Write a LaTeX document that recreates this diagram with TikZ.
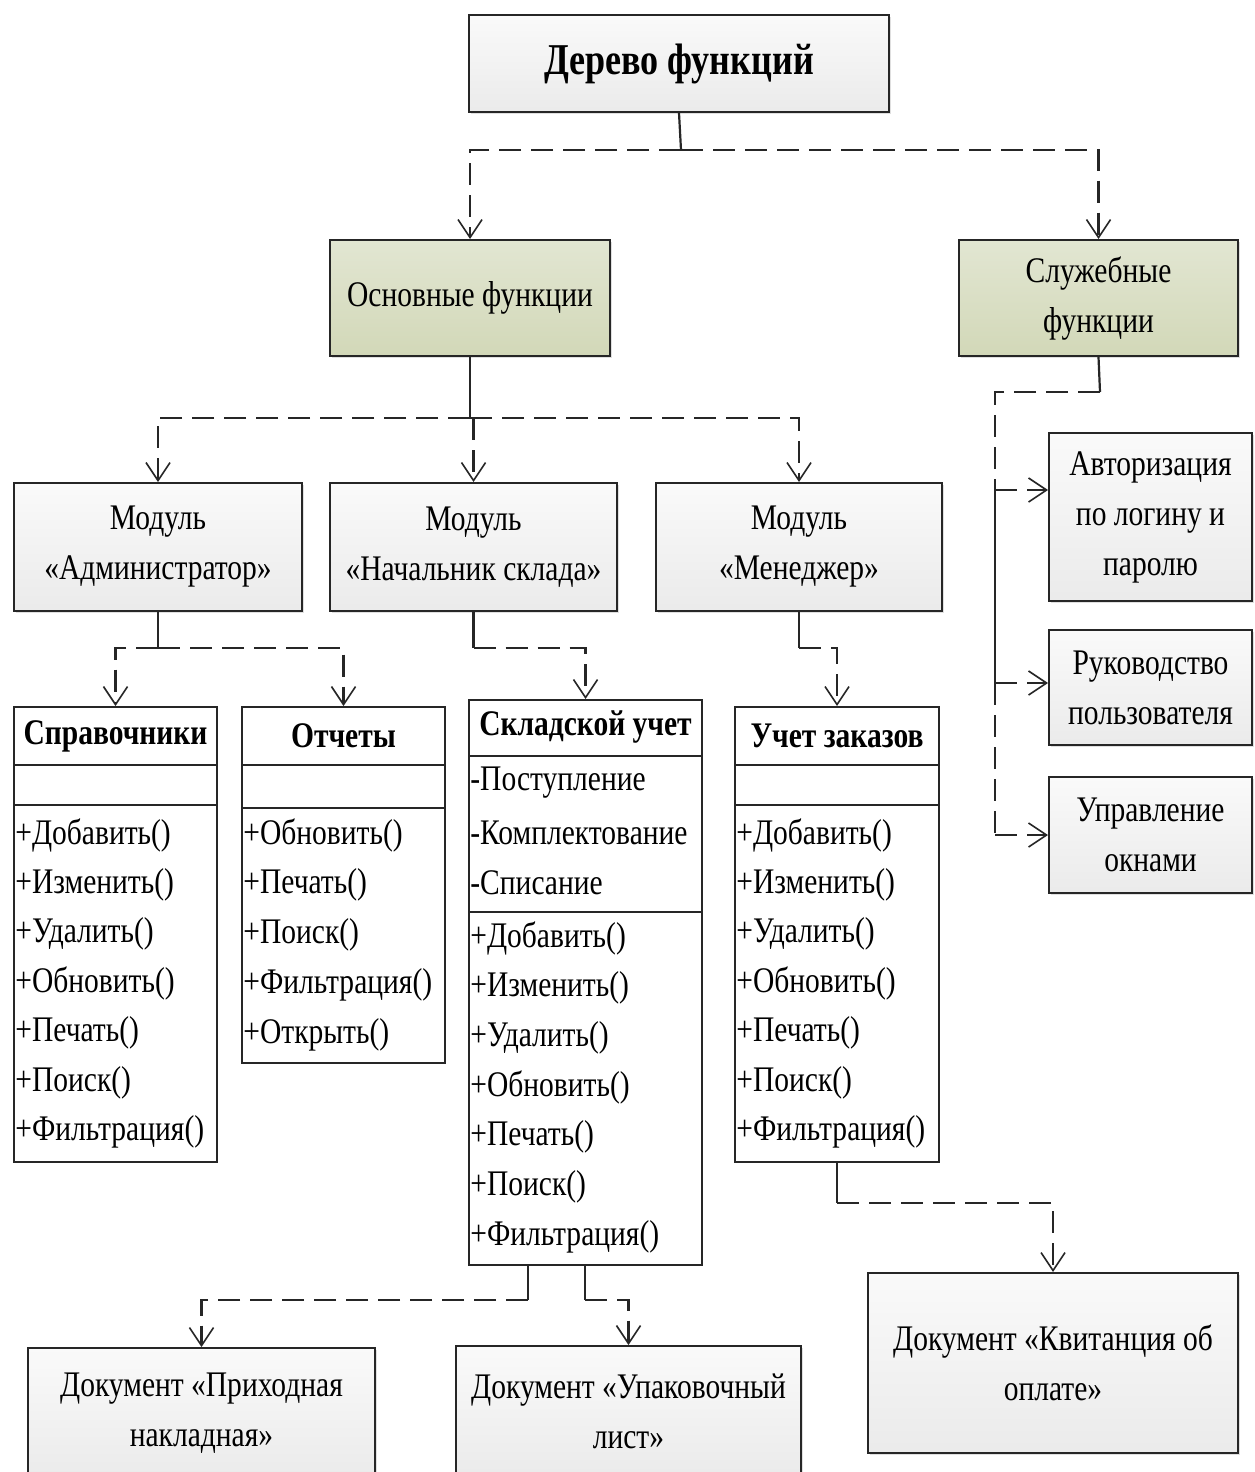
\documentclass[tikz,border=0pt]{standalone}
\usepackage{fontspec}
\setmainfont{Liberation Serif}[FakeStretch=0.82]
\usetikzlibrary{arrows.meta,shadows}
\definecolor{olivetop}{HTML}{E2E6D2}
\definecolor{olivebot}{HTML}{D2D8B8}
\tikzset{
  sz/.style 2 args={minimum width=#1*0.5pt, minimum height=#2*0.5pt},
  box/.style={draw=black!85, line width=1pt, top color=gray!4, bottom color=gray!16,
    inner sep=0pt, align=center, font=\fontsize{18}{25}\selectfont,
    drop shadow={shadow xshift=0.8pt, shadow yshift=-0.8pt, opacity=0.25}},
  greenbox/.style={box, top color=olivetop, bottom color=olivebot},
  cls/.style={draw=black!85, line width=1pt, fill=white, inner sep=0pt},
  ctitle/.style={font=\bfseries\fontsize{18}{22}\selectfont, inner sep=0pt},
  item/.style={anchor=west, inner sep=0.5pt, font=\fontsize{18}{22}\selectfont},
  sep/.style={draw=black!85, line width=1pt},
  solidln/.style={line width=1.1pt, black!85},
  dashln/.style={line width=1.3pt, black!85, dash pattern=on 11pt off 5pt},
  conn/.style={dashln, -{Straight Barb[length=9pt,width=12pt,line width=0.8pt]}}
}
\begin{document}
\begin{tikzpicture}[x=0.5pt,y=-0.5pt]
\clip (0,0) rectangle (1254,1472);
\fill[white] (0,0) rectangle (1254,1472);

% ---------- boxes ----------
\node[box, sz={420}{97}, font=\bfseries\fontsize{22}{26}\selectfont] (top) at (679,63.5) {Дерево функций};
\node[greenbox, sz={280}{116}] (osn) at (470,298) {Основные функции};
\node[greenbox, sz={279}{116}] (slu) at (1098.5,298) {Служебные\\функции};

\node[box, sz={288}{128}] (adm) at (158,547) {Модуль\\«Администратор»};
\node[box, sz={287}{128}] (nach) at (473.5,547) {Модуль\\«Начальник склада»};
\node[box, sz={286}{128}] (men) at (799,547) {Модуль\\«Менеджер»};

\node[box, sz={203}{168}] (avt) at (1150.5,517) {Авторизация\\по логину и\\паролю};
\node[box, sz={203}{115}] (ruk) at (1150.5,687.5) {Руководство\\пользователя};
\node[box, sz={203}{116}] (upr) at (1150.5,835) {Управление\\окнами};

\node[box, sz={347}{130}] (pri) at (201.5,1413) {Документ «Приходная\\накладная»};
\node[box, sz={345}{130}] (upk) at (628.5,1411) {Документ «Упаковочный\\лист»};
\node[box, sz={370}{180}] (kvi) at (1053,1363) {Документ «Квитанция об\\оплате»};

% ---------- class boxes ----------
\node[cls, sz={203}{455}] (spr) at (115.5,934.5) {};
\node[ctitle] (sprT) at (115.5,736) {Справочники};
\draw[sep] (14,765) -- (217,765) (14,805) -- (217,805);
\foreach \t [count=\i from 0] in {Добавить(),Изменить(),Удалить(),Обновить(),Печать(),Поиск(),Фильтрация()}
  \node[item] (spr\i) at (14,835+49.5*\i) {+\t};

\node[cls, sz={203}{356}] (otc) at (343.5,885) {};
\node[ctitle] (otcT) at (343.5,736) {Отчеты};
\draw[sep] (242,765) -- (445,765) (242,808) -- (445,808);
\foreach \t [count=\i from 0] in {Обновить(),Печать(),Поиск(),Фильтрация(),Открыть()}
  \node[item] (otc\i) at (242,835+50*\i) {+\t};

\node[cls, sz={233}{565}] (skl) at (585.5,982.5) {};
\node[ctitle] (sklT) at (585.5,727) {Складской учет};
\draw[sep] (469,756) -- (702,756) (469,912) -- (702,912);
\foreach \t [count=\i from 0] in {Поступление,Комплектование,Списание}
  \node[item] (skla\i) at (469,783+50*\i) {-\t};
\foreach \t [count=\i from 0] in {Добавить(),Изменить(),Удалить(),Обновить(),Печать(),Поиск(),Фильтрация()}
  \node[item] (skl\i) at (469,938+49.8*\i) {+\t};

\node[cls, sz={204}{455}] (zak) at (837,934.5) {};
\node[ctitle] (zakT) at (837,736) {Учет заказов};
\draw[sep] (735,765) -- (939,765) (735,805) -- (939,805);
\foreach \t [count=\i from 0] in {Добавить(),Изменить(),Удалить(),Обновить(),Печать(),Поиск(),Фильтрация()}
  \node[item] (zak\i) at (735,835+49.5*\i) {+\t};

% ---------- junctions ----------
\coordinate (j1) at (681,150);
\coordinate (j2) at (470,418);
\coordinate (j3) at (158,648);
\coordinate (j4) at (473.5,648);
\coordinate (j5) at (799,648);
\coordinate (j6) at (837,1203);
\coordinate (s1) at (528,1265);
\coordinate (s2) at (585,1265);
\coordinate (j7) at (528,1300);
\coordinate (j8) at (585,1300);
\coordinate (j9) at (1100,392);
\coordinate (jr) at (995,392);
\coordinate (ja) at (995,490);
\coordinate (jb) at (995,683);
\coordinate (jc) at (995,835);

% ---------- connectors ----------
\draw[solidln] (top.south) -- (j1);
\draw[conn] (j1) -| (osn.north);
\draw[conn] (j1) -| (slu.north);

\draw[solidln] (osn.south) -- (j2);
\draw[conn] (j2) -| (adm.north);
\draw[conn] (j2 -| nach.north) -- (nach.north);
\draw[conn] (j2) -| (men.north);

\draw[solidln] (adm.south) -- (j3);
\draw[conn] (j3) -| (spr.north);
\draw[conn] (j3) -| (otc.north);
\draw[solidln] (nach.south) -- (j4);
\draw[conn] (j4) -| (skl.north);
\draw[solidln] (men.south) -- (j5);
\draw[conn] (j5) -| (zak.north);

\draw[solidln] (zak.south) -- (j6);
\draw[conn] (j6) -| (kvi.north);
\draw[solidln] (s1) -- (j7);
\draw[conn] (j7) -| (pri.north);
\draw[solidln] (s2) -- (j8);
\draw[conn] (j8) -| (upk.north);

\draw[solidln] (slu.south) -- (j9);
\draw[dashln] (j9) -- (jr) -- (ja);
\draw[conn] (ja) -- (avt.west |- ja);
\draw[solidln] (ja) -- (jb);
\draw[conn] (jb) -- (ruk.west |- jb);
\draw[dashln] (jb) -- (jc);
\draw[conn] (jc) -- (upr.west |- jc);
\end{tikzpicture}
\end{document}
